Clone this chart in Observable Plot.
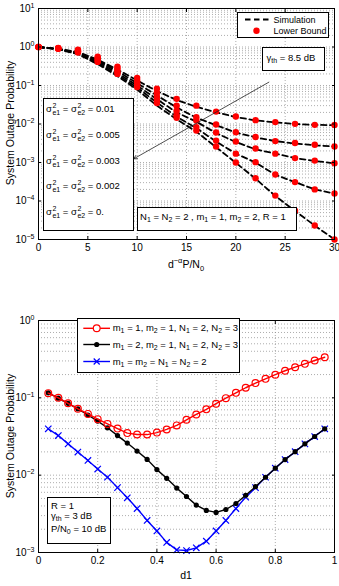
<!DOCTYPE html>
<html><head><meta charset="utf-8">
<script src="https://cdn.jsdelivr.net/npm/d3@7"></script>
<script src="https://cdn.jsdelivr.net/npm/@observablehq/plot@0.6"></script>
<style>
body{margin:0;background:#fff;}
#wrap{position:relative;width:339px;height:586px;overflow:hidden;font-family:"Liberation Sans",Arial,sans-serif;color:#000;}
#wrap svg.plot{position:absolute;left:0;}
.box{position:absolute;border:1px solid #000;background:#fff;box-sizing:border-box;}
.t{position:absolute;white-space:nowrap;font-size:9.5px;line-height:1;transform:translateY(-50%);}
.t sub,.t sup{font-size:7px;line-height:0;}
.t sub{vertical-align:-2px;}
.small{font-size:9px;}
.st{display:inline-flex;flex-direction:column;font-size:7px;line-height:7px;vertical-align:middle;margin-left:0.5px;}
.lab{position:absolute;white-space:nowrap;font-size:10.5px;line-height:1;transform:translate(-50%,-50%);}
.lab sub,.lab sup{font-size:7.5px;line-height:0;}
.rot{transform:translate(-50%,-50%) rotate(-90deg);}
</style>
</head><body>
<div id="wrap"></div>
<script>
// ---------- Chart 1 data ----------
const snr = [0,2,4,6,8,10,12,14,16,18,20,22,24,26,28,30];
const sigmaLabels = ["0.01","0.005","0.003","0.002","0."];
const lb001  = [1.0,0.94,0.85,0.56,0.31,0.158,0.082,0.045,0.030,0.021,0.0157,0.0126,0.0112,0.0101,0.0095,0.0094];
const lb0005 = [1.0,0.93,0.81,0.52,0.28,0.135,0.064,0.030,0.015,0.0097,0.0061,0.0046,0.0036,0.0032,0.0029,0.0026];
const lb0003 = [1.0,0.92,0.78,0.48,0.25,0.118,0.051,0.022,0.0123,0.0060,0.0035,0.0023,0.0017,0.0013,0.00112,0.00096];
const lb0002 = [1.0,0.91,0.75,0.44,0.22,0.103,0.042,0.017,0.0083,0.0037,0.0017,0.00102,0.00049,0.00031,0.00020,0.000156];
const lb0    = [1.0,0.90,0.72,0.41,0.20,0.091,0.035,0.0145,0.0068,0.0026,0.0010,0.00039,0.000138,0.000056,0.000023,0.00001];
const sim001  = [1.0,0.90,0.74,0.47,0.26,0.135,0.072,0.042,0.028,0.020,0.0152,0.0124,0.0110,0.0100,0.0095,0.0093];
const sim0005 = [1.0,0.89,0.71,0.44,0.235,0.115,0.055,0.027,0.0145,0.0093,0.0060,0.0045,0.0036,0.0031,0.0028,0.0026];
const sim0003 = [1.0,0.88,0.69,0.41,0.21,0.100,0.044,0.020,0.0115,0.0058,0.0034,0.0022,0.0017,0.0013,0.0011,0.00095];
const sim0002 = [1.0,0.88,0.67,0.38,0.19,0.088,0.036,0.0155,0.0078,0.0035,0.0017,0.0010,0.00048,0.00031,0.00020,0.000155];
const sim0    = [1.0,0.87,0.65,0.36,0.175,0.078,0.030,0.0132,0.0063,0.0025,0.00098,0.00038,0.000135,0.000055,0.000023,0.00001];
const xTicks1 = [0,5,10,15,20,25,30];
const yTicks1 = [1e-5,1e-4,1e-3,1e-2,1e-1,1,10];

// ---------- Chart 2 data ----------
const d1 = [0.033,0.067,0.1,0.133,0.167,0.2,0.233,0.267,0.3,0.333,0.367,0.4,0.433,0.467,0.5,0.533,0.567,0.6,0.633,0.667,0.7,0.733,0.767,0.8,0.833,0.867,0.9,0.933,0.967];
const pRed   = [0.115,0.100,0.085,0.072,0.062,0.053,0.046,0.040,0.035,0.0335,0.0335,0.0355,0.039,0.044,0.052,0.061,0.071,0.084,0.099,0.116,0.135,0.155,0.176,0.199,0.224,0.249,0.275,0.304,0.335];
const pBlack = [0.116,0.099,0.085,0.072,0.060,0.050,0.041,0.0325,0.026,0.0205,0.016,0.0118,0.0091,0.0068,0.0053,0.0041,0.0035,0.0033,0.0036,0.0043,0.0055,0.0071,0.0094,0.0123,0.0159,0.0201,0.0254,0.0316,0.0398];
const pBlue  = [0.0398,0.0325,0.0254,0.0199,0.0155,0.0120,0.0094,0.0069,0.0051,0.0037,0.0026,0.0019,0.00135,0.00108,0.00106,0.00115,0.0014,0.0019,0.0026,0.0037,0.0052,0.0069,0.0094,0.0123,0.0159,0.0201,0.0254,0.0316,0.0398];
const xTicks2 = [0,0.2,0.4,0.6,0.8,1];
const yTicks2 = [1e-3,1e-2,1e-1,1];

// ---------- helpers ----------
const NS = "http://www.w3.org/2000/svg";
function minorLog(lo, hi){ const out=[]; for(let e=lo;e<hi;e++){ for(let k=1;k<10;k++){ out.push(k*Math.pow(10,e)); } } out.push(Math.pow(10,hi)); return out; }
function supTicks(svg){
  svg.querySelectorAll('g[aria-label="y-axis tick label"] text').forEach(t=>{
    const s=t.textContent;
    if(s.startsWith("10^")){
      const e=s.slice(3).replace("-","\u2212");
      t.textContent="10";
      const ts=document.createElementNS(NS,"tspan");
      ts.setAttribute("dy","-4"); ts.setAttribute("font-size","7"); ts.textContent=e;
      t.appendChild(ts);
    }
  });
}
const fmtPow = d => "10^" + Math.round(Math.log10(d));
const style = {fontFamily:'"Liberation Sans",Arial,sans-serif', fontSize:"10px", background:"transparent", overflow:"visible"};
const gridStyle = {stroke:"#8a8a8a", strokeOpacity:1, strokeDasharray:"1,2", strokeWidth:0.7};

// ---------- Chart 1 ----------
const series1 = [lb001,lb0005,lb0003,lb0002,lb0].map((lb,j)=>({name:sigmaLabels[j], lb, sim:[sim001,sim0005,sim0003,sim0002,sim0][j]}));
const rows1 = [];
series1.forEach(s=>snr.forEach((x,i)=>rows1.push({x, lb:s.lb[i], sim:s.sim[i], s:s.name})));
const arrowAnn = [{x1:23.35, y1:0.122, x2:9.66, y2:0.00125}];

const chart1 = Plot.plot({
  width:339, height:275, marginLeft:38, marginRight:5, marginTop:8, marginBottom:36,
  style,
  x:{domain:[0,30]},
  y:{type:"log", domain:[1e-5,10]},
  marks:[
    Plot.gridY(minorLog(-5,1), gridStyle),
    Plot.gridX(xTicks1, gridStyle),
    Plot.line(rows1,{x:"x", y:"sim", z:"s", stroke:"black", strokeWidth:1.8, strokeDasharray:"5.5,3.5"}),
    Plot.dot(rows1,{x:"x", y:"lb", fill:"#ff0000", r:3.2}),
    Plot.arrow(arrowAnn,{x1:"x1", y1:"y1", x2:"x2", y2:"y2", stroke:"#222", strokeWidth:0.8, headLength:7}),
    Plot.axisX({ticks:xTicks1, tickSize:-3, tickPadding:7, label:null}),
    Plot.axisX({anchor:"top", ticks:xTicks1, tickSize:-3, tickFormat:()=>"", label:null}),
    Plot.axisY({ticks:yTicks1, tickFormat:fmtPow, tickSize:-3, tickPadding:7, label:null}),
    Plot.axisY({anchor:"right", ticks:yTicks1, tickSize:-3, tickFormat:()=>"", label:null}),
    Plot.frame({stroke:"black", strokeWidth:1})
  ]
});
chart1.classList.add("plot"); chart1.style.top="0px";
supTicks(chart1);

// ---------- Chart 2 ----------
const rows2 = [];
d1.forEach((x,i)=>{ rows2.push({x,y:pRed[i],s:"red"}); rows2.push({x,y:pBlack[i],s:"black"}); rows2.push({x,y:pBlue[i],s:"blue"}); });
const redRows = rows2.filter(r=>r.s==="red"), blackRows = rows2.filter(r=>r.s==="black"), blueRows = rows2.filter(r=>r.s==="blue");

const chart2 = Plot.plot({
  width:339, height:286, marginLeft:38, marginRight:5, marginTop:20, marginBottom:34,
  style,
  x:{domain:[0,1]},
  y:{type:"log", domain:[1e-3,1]},
  marks:[
    Plot.gridY(minorLog(-3,0), gridStyle),
    Plot.gridX(xTicks2, gridStyle),
    Plot.line(blueRows,{x:"x", y:"y", stroke:"#0000ff", strokeWidth:1.4}),
    Plot.dot(blueRows,{x:"x", y:"y", stroke:"#0000ff", symbol:"times", r:3, strokeWidth:1.2}),
    Plot.line(blackRows,{x:"x", y:"y", stroke:"black", strokeWidth:1.4}),
    Plot.dot(blackRows,{x:"x", y:"y", fill:"black", r:2.6}),
    Plot.line(redRows,{x:"x", y:"y", stroke:"#ff0000", strokeWidth:1.4}),
    Plot.dot(redRows,{x:"x", y:"y", stroke:"#ff0000", fill:"none", r:3.4, strokeWidth:1.2}),
    Plot.axisX({ticks:xTicks2, tickFormat:d=>String(d), tickSize:-3, tickPadding:7, label:null}),
    Plot.axisX({anchor:"top", ticks:xTicks2, tickSize:-3, tickFormat:()=>"", label:null}),
    Plot.axisY({ticks:yTicks2, tickFormat:fmtPow, tickSize:-3, tickPadding:7, label:null}),
    Plot.axisY({anchor:"right", ticks:yTicks2, tickSize:-3, tickFormat:()=>"", label:null}),
    Plot.frame({stroke:"black", strokeWidth:1})
  ]
});
chart2.classList.add("plot"); chart2.style.top="300px";
supTicks(chart2);

const wrap = document.getElementById("wrap");
wrap.appendChild(chart1);
wrap.appendChild(chart2);

// ---------- annotations (boxes, legends, labels) ----------
const sig = '&sigma;<span class="st"><span>2</span><span>e1</span></span>';
const sig2 = '&sigma;<span class="st"><span>2</span><span>e2</span></span>';
const sigmaY = [109,135,160.7,186,211.7];
let html = '';
// chart 1 boxes
html += '<div class="box" style="left:236.5px;top:11.5px;width:92px;height:26px"></div>';
html += '<div class="box" style="left:262px;top:46.5px;width:63px;height:24.5px"></div>';
html += '<div class="box" style="left:43px;top:98px;width:90.5px;height:133px"></div>';
html += '<div class="box" style="left:136.5px;top:206.5px;width:160px;height:24px"></div>';
// chart 2 boxes
html += '<div class="box" style="left:77px;top:318px;width:163px;height:55px"></div>';
html += '<div class="box" style="left:47px;top:497px;width:64px;height:46.5px"></div>';
// glyphs
html += `<svg width="339" height="586" style="position:absolute;left:0;top:0;overflow:visible">
  <line x1="245" y1="19.5" x2="269" y2="19.5" stroke="black" stroke-width="1.8" stroke-dasharray="5.5,3.5"/>
  <circle cx="256.5" cy="30.7" r="3.2" fill="#ff0000"/>
  <line x1="83.3" y1="328.3" x2="110" y2="328.3" stroke="#ff0000" stroke-width="1.4"/>
  <circle cx="96.7" cy="328.3" r="3.4" fill="#fff" stroke="#ff0000" stroke-width="1.2"/>
  <line x1="83.3" y1="344.5" x2="110" y2="344.5" stroke="black" stroke-width="1.4"/>
  <circle cx="96.7" cy="344.5" r="2.6" fill="black"/>
  <line x1="83.3" y1="361.5" x2="110" y2="361.5" stroke="#0000ff" stroke-width="1.4"/>
  <path d="M93.7,358.5L99.7,364.5M93.7,364.5L99.7,358.5" stroke="#0000ff" stroke-width="1.2"/>
</svg>`;
// texts chart 1
html += '<div class="t small" style="left:273.5px;top:19.5px">Simulation</div>';
html += '<div class="t small" style="left:273.5px;top:30.7px">Lower Bound</div>';
html += '<div class="t" style="left:266.5px;top:58px">&gamma;<sub>th</sub> = 8.5 dB</div>';
sigmaLabels.forEach((v,j)=>{ html += `<div class="t" style="left:46px;top:${sigmaY[j]}px">${sig} = ${sig2} = ${v}</div>`; });
html += '<div class="t" style="left:140px;top:217px">N<sub>1</sub> = N<sub>2</sub> = 2 , m<sub>1</sub> = 1, m<sub>2</sub> = 2, R = 1</div>';
// texts chart 2
html += '<div class="t" style="left:112.7px;top:328.3px">m<sub>1</sub> = 1, m<sub>2</sub> = 1, N<sub>1</sub> = 2, N<sub>2</sub> = 3</div>';
html += '<div class="t" style="left:112.7px;top:344.5px">m<sub>1</sub> = 2, m<sub>2</sub> = 1, N<sub>1</sub> = 2, N<sub>2</sub> = 3</div>';
html += '<div class="t" style="left:112.7px;top:361.5px">m<sub>1</sub> = m<sub>2</sub> = N<sub>1</sub> = N<sub>2</sub> = 2</div>';
html += '<div class="t" style="left:51px;top:505.5px">R = 1</div>';
html += '<div class="t" style="left:51px;top:516px">&gamma;<sub>th</sub> = 3 dB</div>';
html += '<div class="t" style="left:51px;top:528.5px">P/N<sub>0</sub> = 10 dB</div>';
// axis labels
html += '<div class="lab rot" style="left:10px;top:123px">System Outage Probability</div>';
html += '<div class="lab" style="left:186px;top:264px">d<sup>&minus;&alpha;</sup>P/N<sub>0</sub></div>';
html += '<div class="lab rot" style="left:10px;top:436px">System Outage Probability</div>';
html += '<div class="lab" style="left:186px;top:575px">d1</div>';
wrap.insertAdjacentHTML("beforeend", html);
</script>
</body></html>
